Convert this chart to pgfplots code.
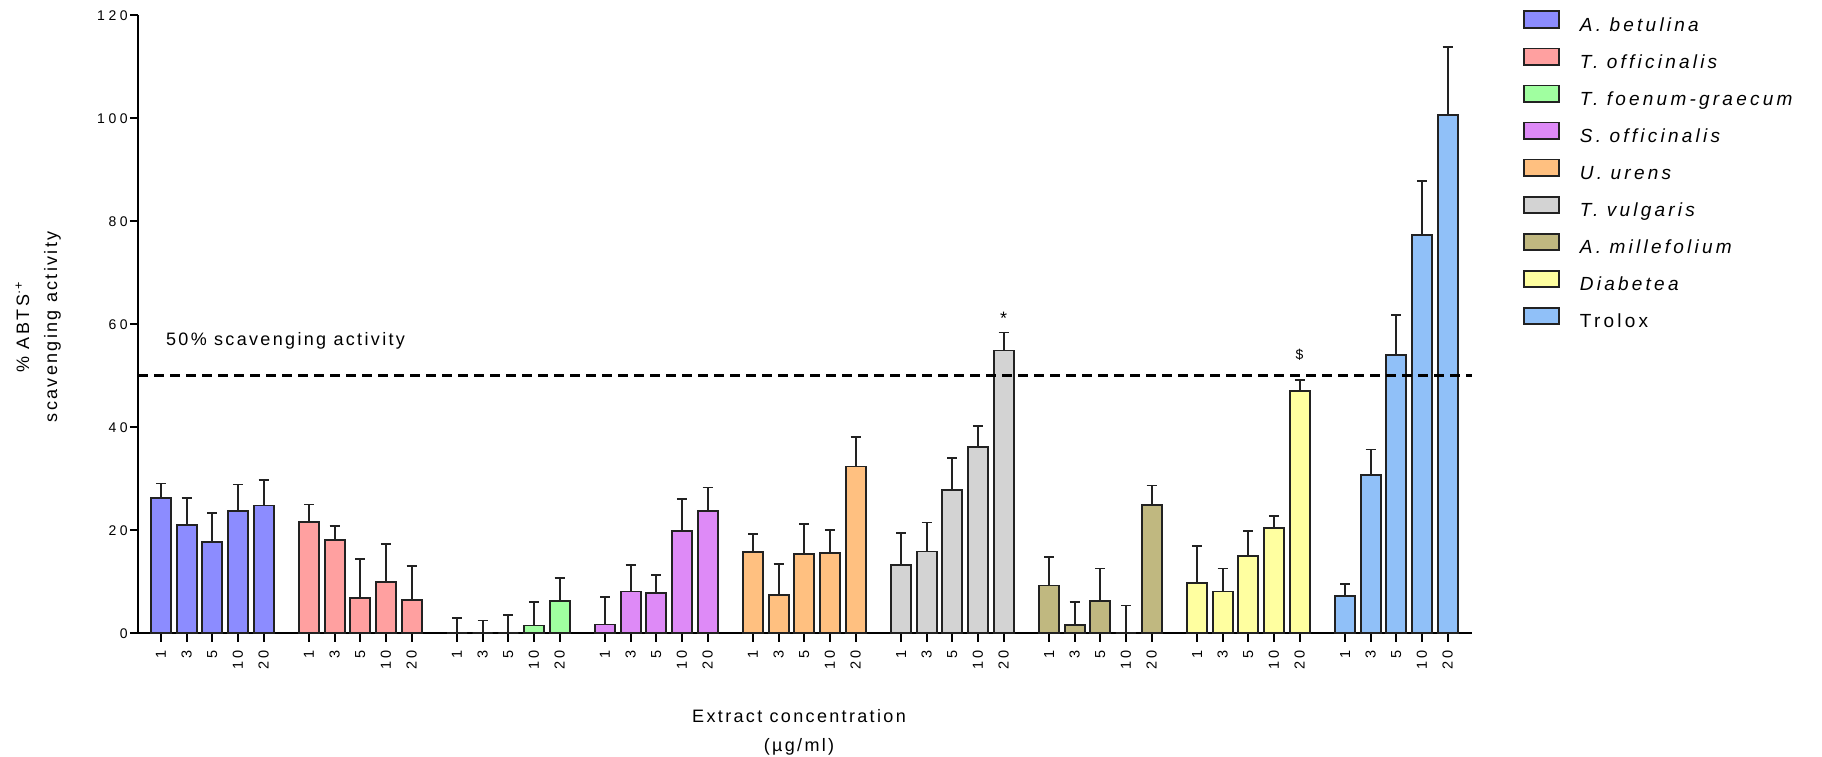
\documentclass[border=0pt]{standalone}
\usepackage{fontspec}
\setmainfont{Liberation Sans}[LetterSpace=13]
\newfontfamily\tickfont{Liberation Sans}[LetterSpace=25]
\newfontfamily\legfont{Liberation Sans}[LetterSpace=17]
\usepackage{pgfplots}
\pgfplotsset{compat=1.18}
\definecolor{cA}{HTML}{8C8CFF}
\definecolor{cB}{HTML}{FFA0A0}
\definecolor{cC}{HTML}{A0FFA0}
\definecolor{cD}{HTML}{DE8AF7}
\definecolor{cE}{HTML}{FFC080}
\definecolor{cF}{HTML}{D3D3D3}
\definecolor{cG}{HTML}{C0B880}
\definecolor{cH}{HTML}{FFFFA0}
\definecolor{cI}{HTML}{90C0F8}
\definecolor{edge}{HTML}{222222}
\newcommand\lstrut{\rule[-5pt]{0pt}{20pt}}
\pgfplotsset{
  mybar/.style={ybar, bar width=20pt, bar shift=0pt, fill=#1, draw=edge, line width=1.8pt,
    error bars/y dir=plus, error bars/y explicit,
    error bars/error bar style={line width=1.8pt, draw=edge},
    error bars/error mark options={rotate=90, mark size=5pt, line width=1.8pt, draw=edge},
    legend image code/.code={\draw[fill=#1, draw=edge, line width=1.8pt] (0pt,-3.3pt) rectangle (35pt,13.3pt);}
  }
}
\begin{document}
\begin{tikzpicture}
\useasboundingbox (-138.3pt,-123.7pt) rectangle (1683.7pt,633.3pt);
\begin{axis}[
  scale only axis, width=1333.4pt, height=618pt,
  xmin=-0.885, xmax=51.1, ymin=0, ymax=120,
  axis x line=bottom, axis y line=left,
  axis line style={-, line width=1.8pt, draw=black},
  tick align=outside, major tick length=8.5pt,
  tick style={line width=1.8pt, black},
  ytick={0,20,40,60,80,100,120},
  xtick={0,1,2,3,4, 5.77,6.77,7.77,8.77,9.77, 11.54,12.54,13.54,14.54,15.54, 17.31,18.31,19.31,20.31,21.31, 23.08,24.08,25.08,26.08,27.08, 28.85,29.85,30.85,31.85,32.85, 34.62,35.62,36.62,37.62,38.62, 40.39,41.39,42.39,43.39,44.39, 46.16,47.16,48.16,49.16,50.16},
  xticklabels={1,3,5,10,20,1,3,5,10,20,1,3,5,10,20,1,3,5,10,20,1,3,5,10,20,1,3,5,10,20,1,3,5,10,20,1,3,5,10,20,1,3,5,10,20},
  xticklabel shift=6pt,
  xticklabel style={rotate=90, anchor=east, inner sep=2pt, font=\tickfont\fontsize{14.5}{16}\selectfont},
  yticklabel style={inner sep=2pt, font=\tickfont\fontsize{14}{16}\selectfont},
  /pgf/number format/assume math mode=true,
  clip=false,
  xlabel={Extract concentration\\(µg/ml)},
  xlabel style={at={([xshift=-6pt,yshift=-75.7pt]axis description cs:0.5,0)}, anchor=north, align=center, inner sep=0pt, font=\fontsize{18}{29}\selectfont},
  ylabel={\% ABTS\textsuperscript{·+}\\scavenging activity},
  ylabel style={at={([xshift=-77.3pt,yshift=-2.5pt]axis description cs:0,0.5)}, anchor=south, align=center, inner sep=0pt, font=\fontsize{18}{28}\selectfont},
  legend style={at={([xshift=51.4pt,yshift=4.8pt]axis description cs:1,1)}, anchor=north west, draw=none, fill=none, inner sep=0pt, outer sep=0pt, row sep=14.6pt, column sep=20pt, nodes={inner sep=0pt}, font=\legfont\fontsize{19}{22}\selectfont},
  legend cell align=left,
]
\addplot[mybar=cA] table[x=x,y=y,y error=e] {
x y e
0 26.2 2.9
1 21.1 5.1
2 17.8 5.5
3 23.7 5.2
4 24.8 5.0
};
\addlegendentry{\textit{A. betulina}\lstrut}
\addplot[mybar=cB] table[x=x,y=y,y error=e] {
x y e
5.77 21.6 3.4
6.77 18.1 2.8
7.77 6.9 7.6
8.77 10.0 7.3
9.77 6.5 6.5
};
\addlegendentry{\textit{T. officinalis}\lstrut}
\addplot[mybar=cC] table[x=x,y=y,y error=e] {
x y e
11.54 0 3.0
12.54 0 2.5
13.54 0 3.6
14.54 1.5 4.6
15.54 6.3 4.5
};
\addlegendentry{\textit{T. foenum-graecum}\lstrut}
\addplot[mybar=cD] table[x=x,y=y,y error=e] {
x y e
17.31 1.7 5.4
18.31 8.1 5.2
19.31 7.9 3.4
20.31 19.9 6.1
21.31 23.7 4.6
};
\addlegendentry{\textit{S. officinalis}\lstrut}
\addplot[mybar=cE] table[x=x,y=y,y error=e] {
x y e
23.08 15.8 3.5
24.08 7.5 6.0
25.08 15.4 5.9
26.08 15.6 4.4
27.08 32.4 5.7
};
\addlegendentry{\textit{U. urens}\lstrut}
\addplot[mybar=cF] table[x=x,y=y,y error=e] {
x y e
28.85 13.2 6.3
29.85 15.9 5.6
30.85 27.8 6.3
31.85 36.1 4.2
32.85 54.9 3.5
};
\addlegendentry{\textit{T. vulgaris}\lstrut}
\addplot[mybar=cG] table[x=x,y=y,y error=e] {
x y e
34.62 9.3 5.5
35.62 1.6 4.5
36.62 6.2 6.4
37.62 0 5.4
38.62 24.9 3.8
};
\addlegendentry{\textit{A. millefolium}\lstrut}
\addplot[mybar=cH] table[x=x,y=y,y error=e] {
x y e
40.39 9.8 7.2
41.39 8.1 4.5
42.39 15.0 4.8
43.39 20.5 2.2
44.39 47.0 2.2
};
\addlegendentry{\textit{Diabetea}\lstrut}
\addplot[mybar=cI] table[x=x,y=y,y error=e] {
x y e
46.16 7.3 2.3
47.16 30.7 5.0
48.16 54.0 7.8
49.16 77.4 10.4
50.16 100.6 13.3
};
\addlegendentry{Trolox\lstrut}
\addplot[sharp plot, no markers, fill=none, draw=black, line width=3.3pt, dash pattern=on 9.5pt off 6.5pt, forget plot] coordinates {(-0.885,50) (51.1,50)};
\node[anchor=base west, inner sep=0pt, font=\fontsize{18}{20}\selectfont] at (axis cs:0.19,55.8) {50\% scavenging activity};
\node[anchor=north, inner sep=0pt, font=\fontsize{18}{20}\selectfont] at (axis cs:32.85,62.5) {*};
\node[anchor=north, inner sep=0pt, font=\fontsize{14}{16}\selectfont] at (axis cs:44.39,55.25) {\$};
\end{axis}
\end{tikzpicture}
\end{document}
